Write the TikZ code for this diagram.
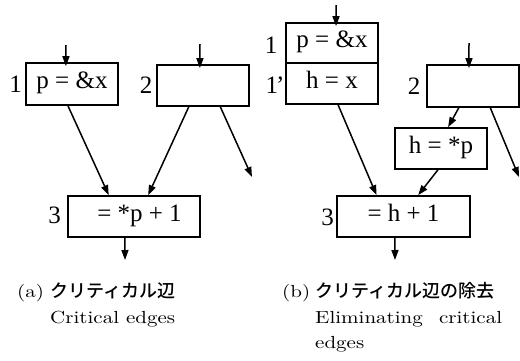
\documentclass[tikz,border=0pt]{standalone}
\usepackage{fontspec}
\usepackage{graphicx}
\usetikzlibrary{arrows.meta,calc}
\newfontfamily\dgfont{Liberation Serif}
\newfontfamily\jpfont{Noto Sans CJK JP}[UprightFont=* Medium]
\newcommand\dg{\dgfont\fontsize{25}{30}\selectfont}
\newcommand\capsz{\fontsize{10}{12}\selectfont}
\newcommand\jpsz{\jpfont\fontsize{18}{20}\selectfont}
\newcommand\capt[1]{\scalebox{2.1}[1.75]{\capsz #1}}
\tikzset{
  blk/.style={draw, line width=1.7pt, minimum width=92pt, minimum height=42pt,
    inner sep=0pt, text height=14pt, text depth=5pt, font=\dg},
  lbl/.style={anchor=base, inner sep=0pt, font=\dg},
  captxt/.style={anchor=base west, inner sep=0pt},
  conn/.style={line width=1.5pt, -{Triangle[length=10pt,width=7pt]}},
}
\begin{document}
\begin{tikzpicture}[x=1pt,y=-1pt]
\useasboundingbox (0,0) rectangle (520,360);
% ---------- (a) ----------
\node[blk] (b1) at (72,84) {p = \&x};
\node[blk, minimum height=41pt] (b2) at (203,85.5) {};
\node[blk, minimum width=132pt, minimum height=41pt] (b3) at (134,216.5) {\hspace{11pt}= *p + 1};
\node[lbl] (l1) at (15.5,92) {1};
\node[lbl] (l2) at (146,93) {2};
\node[lbl] (l3) at (54.5,223) {3};
\coordinate (b1in) at (66,45);
\coordinate (b2in) at (200,44);
\coordinate (b2out) at (252,177);
\coordinate (b3out) at (125,260);
\draw[conn, shorten >=-4pt] (b1in) -- ($(b1.north west)!.435!(b1.north east)$);
\draw[conn, shorten >=-4pt] (b2in) -- ($(b2.north west)!.467!(b2.north east)$);
\draw[conn] ($(b1.south west)!.457!(b1.south east)$) -- ($(b3.north west)!.311!(b3.north east)$);
\draw[conn] ($(b2.south west)!.348!(b2.south east)$) -- ($(b3.north west)!.606!(b3.north east)$);
\draw[conn] ($(b2.south west)!.685!(b2.south east)$) -- (b2out);
\draw[conn] ($(b3.south west)!.432!(b3.south east)$) -- (b3out);
% ---------- (b) ----------
\node[blk, minimum height=40pt] (r1) at (332,43) {p = \&x};
\node[blk, minimum height=41pt] (r1p) at (332,83.5) {h = x};
\node[blk] (r2) at (473,86) {};
\node[blk, minimum height=41pt] (rh) at (441,148.5) {h = *p};
\node[blk, minimum width=133pt, minimum height=41pt] (r3) at (403.5,216.5) {= h + 1};
\node[lbl] (m1) at (271,53) {1};
\node[lbl, anchor=base west] (m1p) at (265.5,93) {1\kern-2pt’};
\node[lbl] (m2) at (414,94) {2};
\node[lbl] (m3) at (327.5,225) {3};
\coordinate (r1in) at (336,5);
\coordinate (r2in) at (469,43);
\coordinate (r2out) at (519,177);
\coordinate (r3out) at (395,260);
\draw[conn, shorten >=-4pt] (r1in) -- ($(r1.north west)!.543!(r1.north east)$);
\draw[conn, shorten >=-4pt] (r2in) -- ($(r2.north west)!.457!(r2.north east)$);
\draw[conn] ($(r1p.south west)!.565!(r1p.south east)$) -- ($(r3.north west)!.30!(r3.north east)$);
\draw[conn] ($(r2.south west)!.348!(r2.south east)$) -- ($(rh.north west)!.576!(rh.north east)$);
\draw[conn] ($(r2.south west)!.685!(r2.south east)$) -- (r2out);
\draw[conn] ($(rh.south west)!.467!(rh.south east)$) -- ($(r3.north west)!.609!(r3.north east)$);
\draw[conn] ($(r3.south west)!.436!(r3.south east)$) -- (r3out);
% ---------- captions ----------
\node[captxt] (ca) at (17,297) {\capt{(a)}};
\node[captxt] (cajp) at (50,297) {\jpsz クリティカル辺};
\node[captxt] (ca2) at (50,323) {\capt{Critical edges}};
\node[captxt] (cb) at (282,297) {\capt{(b)}};
\node[captxt] (cbjp) at (315,297) {\jpsz クリティカル辺の除去};
\node[captxt] (cb2) at (315,323) {\capt{\makebox[89pt][l]{Eliminating\hfill critical}}};
\node[captxt] (cb3) at (315,348) {\capt{edges}};
\end{tikzpicture}
\end{document}
